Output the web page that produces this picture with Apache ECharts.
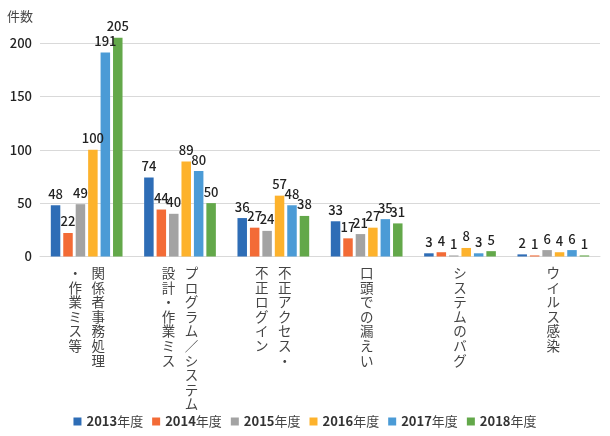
<!DOCTYPE html>
<html><head><meta charset="utf-8">
<script src="https://cdn.jsdelivr.net/npm/echarts@6/dist/echarts.min.js"></script>
<style>html,body{margin:0;padding:0;background:#fff}#c{width:610px;height:436px}</style>
</head><body><div id="c"></div>
<script>
// columns of each vertical label, separated by '|': first column is the rightmost
const categories = ['関係者事務処理|・作業ミス等', 'プログラム／システム|設計・作業ミス', '不正アクセス・|不正ログイン', '口頭での漏えい', 'システムのバグ', 'ウイルス感染'];
const seriesNames = ['2013年度', '2014年度', '2015年度', '2016年度', '2017年度', '2018年度'];
const v2013 = [48, 74, 36, 33, 3, 2];
const v2014 = [22, 44, 27, 17, 4, 1];
const v2015 = [49, 40, 24, 21, 1, 6];
const v2016 = [100, 89, 57, 27, 8, 4];
const v2017 = [191, 80, 48, 35, 3, 6];
const v2018 = [205, 50, 38, 31, 5, 1];
const yTicks = [0, 50, 100, 150, 200];
const colors = ['#2E6DB6', '#F36B36', '#A3A3A3', '#FDB22C', '#4B9BD6', '#63A84A'];

const values = [v2013, v2014, v2015, v2016, v2017, v2018];
const FONT = '"Noto Sans CJK JP", "Noto Sans", sans-serif';

function vertical(label) {
  const cols = label.split('|');
  const n = Math.max(...cols.map(c => c.length));
  const lines = [];
  for (let i = 0; i < n; i++) {
    if (cols.length === 1) {
      lines.push('{c|' + (cols[0][i] || '　') + '}');
    } else {
      const right = cols[0][i] || '　';
      const left = cols[1][i] || '　';
      lines.push('{c|' + left + '}{c|' + right + '}');
    }
  }
  return lines.join('\n');
}

const chart = echarts.init(document.getElementById('c'), null, {renderer: 'canvas'});
chart.setOption({
  animation: false,
  color: colors,
  textStyle: {fontFamily: FONT},
  grid: {left: 40, right: 10, top: 43, bottom: 179.5, containLabel: false},
  legend: {
    bottom: 3,
    left: 'center',
    itemWidth: 8,
    itemHeight: 8,
    itemGap: 9,
    icon: 'rect',
    data: seriesNames,
    formatter: function (name) { return '{b|' + name.slice(0, 4) + '}{n|' + name.slice(4) + '}'; },
    textStyle: {
      fontFamily: FONT, color: '#333', fontSize: 13,
      rich: {
        b: {fontFamily: FONT, fontSize: 13, fontWeight: 'bold', color: '#333'},
        n: {fontFamily: FONT, fontSize: 13, color: '#444'}
      }
    }
  },
  xAxis: {
    type: 'category',
    data: categories,
    axisTick: {show: false},
    axisLine: {lineStyle: {color: '#D9D9D9', width: 1}},
    axisLabel: {
      interval: 0,
      margin: 9,
      formatter: vertical,
      color: '#444',
      rich: {c: {fontFamily: FONT, fontSize: 13.5, lineHeight: 14.6, width: 23, align: 'center', color: '#444'}}
    }
  },
  yAxis: {
    type: 'value',
    min: 0,
    max: 200,
    interval: 50,
    name: '件数',
    nameGap: 20,
    nameTextStyle: {fontFamily: FONT, fontSize: 13, color: '#444', align: 'right', padding: [0, 7, 0, 0]},
    axisLine: {show: false},
    axisTick: {show: false},
    axisLabel: {
      margin: 8,
      color: '#222',
      fontSize: 13,
      fontWeight: 500,
      fontFamily: FONT,
      formatter: function (v) { return yTicks.indexOf(v) >= 0 ? String(v) : ''; }
    },
    splitLine: {lineStyle: {color: '#D9D9D9', width: 1}}
  },
  series: seriesNames.map((name, i) => ({
    name: name,
    type: 'bar',
    data: values[i],
    clip: false,
    barWidth: 9.5,
    barGap: '31%',
    itemStyle: {color: colors[i]},
    label: {
      show: true,
      position: 'top',
      distance: 5,
      fontFamily: FONT,
      fontSize: 13,
      fontWeight: 500,
      color: '#222'
    }
  }))
});
</script>
</body></html>
